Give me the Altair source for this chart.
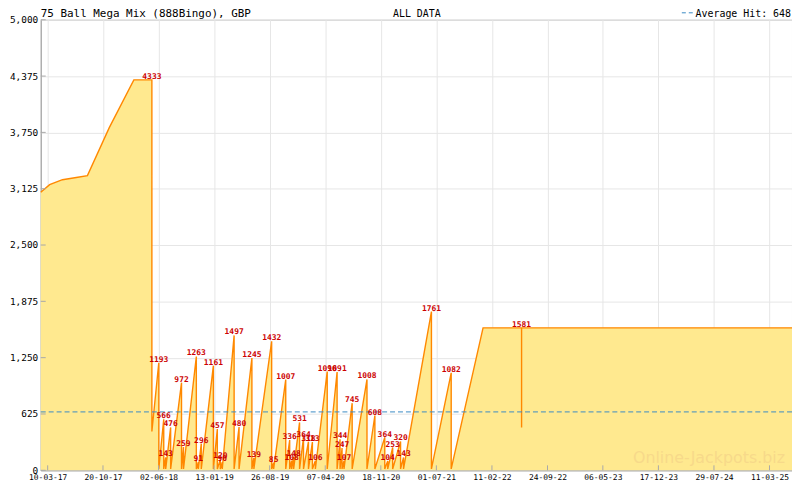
import altair as alt
import pandas as pd

# ---- data ----
# early rising run (before the first recorded hit)
lead_dates = ["2017-02-10", "2017-03-18", "2017-05-09", "2017-07-04", "2017-08-18",
              "2017-11-14", "2018-02-22"]
lead_values = [3085, 3170, 3225, 3250, 3270, 3800, 4333]

# hits: date, amount won (label), jackpot value right after the hit
hit_dates = ["2018-05-06", "2018-06-03", "2018-06-23", "2018-07-01", "2018-07-21",
             "2018-09-03", "2018-09-11", "2018-11-02", "2018-11-10", "2018-11-22",
             "2019-01-10", "2019-01-26", "2019-02-07", "2019-02-15", "2019-04-04",
             "2019-04-24", "2019-06-15", "2019-06-23", "2019-09-03", "2019-09-11",
             "2019-10-30", "2019-11-15", "2019-11-23", "2019-12-01", "2019-12-25",
             "2020-01-10", "2020-01-30", "2020-02-15", "2020-02-27", "2020-04-15",
             "2020-05-25", "2020-06-06", "2020-06-14", "2020-06-22", "2020-07-25",
             "2020-09-23", "2020-10-25", "2020-12-04", "2020-12-16", "2021-01-05",
             "2021-02-06", "2021-02-18", "2021-06-11", "2021-08-30", "2022-06-11"]
hit_values = [4333, 1193, 566, 143, 476,
              972, 259, 1263, 91, 296,
              1161, 457, 120, 90, 1497,
              480, 1245, 139, 1432, 85,
              1007, 336, 108, 148, 531,
              364, 318, 313, 106, 1096,
              1091, 344, 247, 107, 745,
              1008, 608, 364, 104, 253,
              320, 143, 1761, 1082, 1581]
reset_values = [430, 15, 15, 15, 15,
                15, 15, 15, 15, 15,
                15, 15, 15, 15, 15,
                15, 15, 15, 15, 15,
                15, 15, 15, 15, 15,
                15, 15, 15, 15, 15,
                15, 15, 15, 15, 15,
                15, 15, 15, 15, 15,
                15, 15, 15, 15, 476]

# bends between hits and the tail after the last hit
bend_dates = ["2022-01-06"]
bend_values = [1581]
tail_dates = ["2022-06-11", "2025-06-10"]
tail_values = [1581, 1581]

average_hit = 648
x_tick_dates = ["2017-03-10", "2017-10-20", "2018-06-02", "2019-01-13", "2019-08-26",
                "2020-04-07", "2020-11-18", "2021-07-01", "2022-02-11", "2022-09-24",
                "2023-05-06", "2023-12-17", "2024-07-29", "2025-03-11"]
y_ticks = [0, 625, 1250, 1875, 2500, 3125, 3750, 4375, 5000]
title_text = "75 Ball Mega Mix (888Bingo), GBP"
center_text = "ALL DATA"
legend_text = "Average Hit: 648"
watermark_text = "Online-Jackpots.biz"

# ---- build tables ----
rows = list(zip(lead_dates, lead_values))
for d, v, r in zip(hit_dates, hit_values, reset_values):
    rows.append((d, v))
    rows.append((d, r))
rows += list(zip(bend_dates, bend_values))
rows += list(zip(tail_dates, tail_values))
path = pd.DataFrame(rows, columns=["date", "value"])
path["date"] = pd.to_datetime(path["date"])
path = path.sort_values("date", kind="stable").reset_index(drop=True)
path["ord"] = range(len(path))

hits = pd.DataFrame({"date": pd.to_datetime(hit_dates), "value": hit_values,
                     "label": [str(v) for v in hit_values]})
avg = pd.DataFrame({"avg": [average_hit]})
xt = pd.DataFrame({"d": pd.to_datetime(x_tick_dates)})
yt = pd.DataFrame({"v": y_ticks})


def dt(s):
    y, m, d = (int(p) for p in s.split("-"))
    return alt.DateTime(year=y, month=m, date=d)


W, H = 757, 454
FONT = "DejaVu Sans Mono"
AXIS_GREY = "#A8A8A8"
xscale = alt.Scale(domain=[dt("2017-02-10"), dt("2025-06-10")], nice=False)
yscale = alt.Scale(domain=[0, 5000], nice=False, zero=True)

x_enc = alt.X("date:T", scale=xscale, title=None,
              axis=alt.Axis(values=[dt(s) for s in x_tick_dates], format="%d-%m-%y",
                            labelFont=FONT, labelFontSize=8, labelColor="#000000",
                            labelPadding=3, ticks=False, labelFlush=False,
                            labelOverlap=False, gridColor="#E6E6E6",
                            domainColor=AXIS_GREY))
y_enc = alt.Y("value:Q", scale=yscale, title=None, stack=None,
              axis=alt.Axis(values=y_ticks, format=",d", labelFont=FONT,
                            labelFontSize=9.5, labelColor="#000000", labelPadding=3,
                            ticks=False, labelFlush=False, labelOverlap=False,
                            gridColor="#E6E6E6", domainColor=AXIS_GREY))

base = alt.Chart(path)
area = base.mark_area(color="#FFE98F", opacity=1, interpolate="linear").encode(
    x=x_enc, y=y_enc)
line = base.mark_line(color="#FF8800", strokeWidth=1.4).encode(
    x="date:T", y=alt.Y("value:Q", stack=None), order="ord:Q")

watermark = alt.Chart(pd.DataFrame({"t": [watermark_text]})).mark_text(
    font="DejaVu Sans", fontSize=16, align="right", baseline="alphabetic",
    color="#F7D98A").encode(x=alt.value(750), y=alt.value(H - 7), text="t:N")

avg_rule = alt.Chart(avg).mark_rule(color="#3A8AC4", strokeDash=[5, 3], strokeWidth=1).encode(
    y="avg:Q")

x_ticks_in = alt.Chart(xt).mark_rule(color=AXIS_GREY).encode(
    x="d:T", y=alt.value(H - 5), y2=alt.value(H))
y_ticks_in = alt.Chart(yt).mark_rule(color=AXIS_GREY).encode(
    y="v:Q", x=alt.value(0), x2=alt.value(5))

labels = alt.Chart(hits).mark_text(font=FONT, fontSize=8, fontWeight="bold", color="#CC0000",
                                   baseline="bottom", dy=1).encode(
    x="date:T", y="value:Q", text="label:N")

head = pd.DataFrame({"t": [title_text]})
title = alt.Chart(head).mark_text(font=FONT, fontSize=11, align="left", baseline="alphabetic",
                                  color="#000000").encode(
    x=alt.value(0), y=alt.value(-3), text="t:N")
center = alt.Chart(pd.DataFrame({"t": [center_text]})).mark_text(
    font=FONT, fontSize=10, align="center", baseline="alphabetic", color="#000000").encode(
    x=alt.value(379), y=alt.value(-3), text="t:N")
legend = alt.Chart(pd.DataFrame({"t": [legend_text]})).mark_text(
    font=FONT, fontSize=10, align="right", baseline="alphabetic", color="#000000").encode(
    x=alt.value(756), y=alt.value(-3), text="t:N")
legend_dash = alt.Chart(pd.DataFrame({"t": [legend_text]})).mark_rule(
    color="#3A8AC4", strokeDash=[4, 3], strokeWidth=1).encode(
    x=alt.value(646), x2=alt.value(659), y=alt.value(-7))

chart = alt.layer(area, watermark, line, avg_rule, x_ticks_in, y_ticks_in, labels,
                  title, center, legend, legend_dash).properties(
    width=W, height=H,
    autosize=alt.AutoSizeParams(type="none"),
    padding={"left": 33, "top": 10, "right": 0, "bottom": 16},
    background="#FFFFFF",
).configure_view(stroke=AXIS_GREY, strokeWidth=1)

chart.save("out.html", embed_options={"renderer": "svg", "actions": False})
